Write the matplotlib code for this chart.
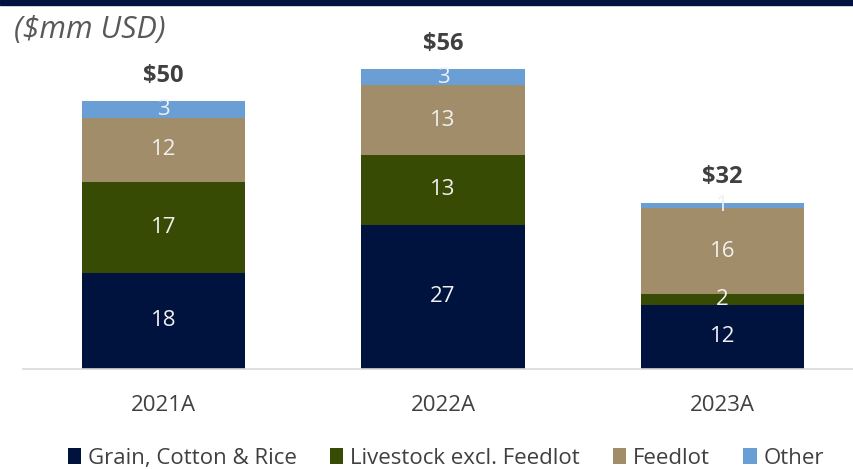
import matplotlib.pyplot as plt
from matplotlib.patches import Rectangle
import numpy as np

plt.rcParams["font.family"] = ["Open Sans", "DejaVu Sans"]

# Revenue by segment, $mm USD
years = ["2021A", "2022A", "2023A"]
grain = [18, 27, 12]
livestock = [17, 13, 2]
feedlot = [12, 13, 16]
other = [3, 3, 1]
totals = ["$50", "$56", "$32"]

segments = [
    ("Grain, Cotton & Rice", grain, "#00133f"),
    ("Livestock excl. Feedlot", livestock, "#374b05"),
    ("Feedlot", feedlot, "#a28d6b"),
    ("Other", other, "#6a9fd6"),
]

W, H = 854, 469
fig = plt.figure(figsize=(W / 100, H / 100), dpi=100)

# axes placed in pixel terms: baseline at y=369, top at y=40
left, right, bottom, top = 23, 854, 369, 40
ax = fig.add_axes([left / W, 1 - bottom / H, (right - left) / W, (bottom - top) / H])

x = np.arange(len(years))
spacing = 279.5
ax.set_xlim(-(163.5 - left) / spacing, (right - 163.5) / spacing)
ax.set_ylim(0, (bottom - top) / 5.35)

base = np.zeros(len(years))
for name, vals, color in segments:
    vals = np.array(vals, dtype=float)
    ax.bar(x, vals, width=0.584, bottom=base, color=color, label=name, zorder=2)
    for xi, b, v in zip(x, base, vals):
        ax.text(xi, b + v / 2, f"{int(v)}", ha="center", va="center",
                color="#f0f0f0", fontsize=16, zorder=3)
    base += vals

for xi, tot, t in zip(x, base, totals):
    ax.text(xi, tot + 4.8, t, ha="center", va="center", fontsize=17,
            fontweight="bold", color="#404040")

for s in ["top", "right", "left"]:
    ax.spines[s].set_visible(False)
ax.spines["bottom"].set_color("#d9d9d9")
ax.spines["bottom"].set_linewidth(1.2)
ax.set_yticks([])
ax.set_xticks(x)
ax.set_xticklabels(years, fontsize=16, color="#404040")
ax.tick_params(axis="x", length=0, pad=19)

fig.text(14 / W, 1 - 30 / H, "($mm USD)", fontsize=22, style="italic",
         color="#595959", va="center", ha="left")

# navy rule along the top edge
fig.patches.append(Rectangle((0, 1 - 5 / H), 1, 5 / H, transform=fig.transFigure,
                             color="#00133f", zorder=5))

fig.legend(loc="center", bbox_to_anchor=(0.522, 1 - 458 / H), ncol=4, frameon=False,
           fontsize=16, handlelength=0.6, handleheight=0.7, handletextpad=0.3,
           columnspacing=1.5, labelcolor="#404040")

fig.savefig("out.png", dpi=100)
